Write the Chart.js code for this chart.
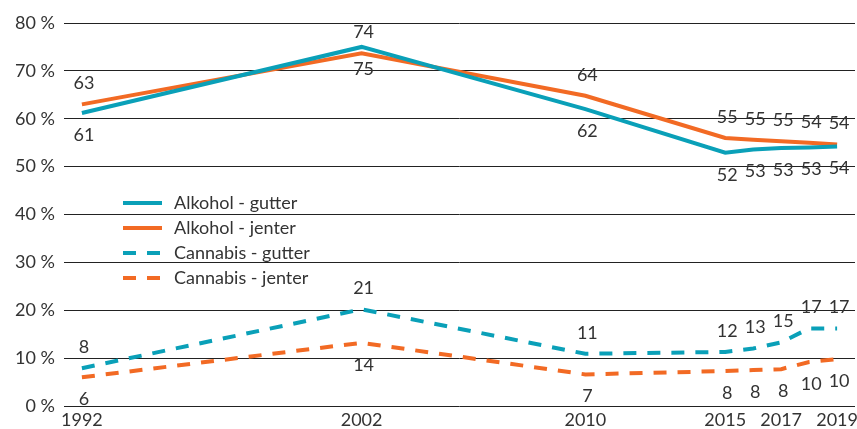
<!DOCTYPE html>
<html>
<head>
<meta charset="utf-8">
<script src="https://cdn.jsdelivr.net/npm/chart.js@4"></script>
<style>
  html, body { margin: 0; padding: 0; background: #fff; }
  #wrap { width: 857px; height: 429px; }
</style>
</head>
<body>
<div id="wrap"><canvas id="myChart" width="857" height="429"></canvas></div>
<script>
// years on the x axis
const years = [1992, 2002, 2010, 2015, 2016, 2017, 2018, 2019];
const yearTicks = [1992, 2002, 2010, 2015, 2017, 2019];

// line values (percent)
const alkoholGutter = [61.2, 75, 62, 52.9, 53.6, 53.9, 54, 54.2];
const alkoholJenter = [63, 73.7, 64.8, 56, 55.6, 55.3, 55, 54.6];
const cannabisGutter = [7.9, 20.2, 10.9, 11.3, 12, 13.3, 16.2, 16.2];
const cannabisJenter = [6, 13.2, 6.6, 7.3, 7.5, 7.7, 9.2, 9.8];

// printed value labels
const alkoholGutterLabels = [61, 75, 62, 52, 53, 53, 53, 54];
const alkoholJenterLabels = [63, 74, 64, 55, 55, 55, 54, 54];
const cannabisGutterLabels = [8, 21, 11, 12, 13, 15, 17, 17];
const cannabisJenterLabels = [6, 14, 7, 8, 8, 8, 10, 10];

const yTicks = [0, 10, 20, 30, 40, 50, 60, 70, 80];

const TEAL = '#0aa0b8';
const ORANGE = '#f26a24';
const TEXT = '#333333';
const FONT = 'Lato';

function pts(vals) {
    return vals.map(function(v, i) { return { x: years[i], y: v }; });
}

// value labels above / below the points
const valueLabels = {
    id: 'valueLabels',
    afterDatasetsDraw: function(chart) {
        const ctx = chart.ctx;
        ctx.save();
        ctx.font = '18px ' + FONT;
        ctx.fillStyle = TEXT;
        ctx.textAlign = 'center';
        ctx.textBaseline = 'middle';
        chart.data.datasets.forEach(function(ds, i) {
            const meta = chart.getDatasetMeta(i);
            meta.data.forEach(function(p, j) {
                const dy = ds.labelPos === 'above' ? -21 : 22;
                ctx.fillText(String(ds.valueLabels[j]), p.x + 2, p.y + dy);
            });
        });
        ctx.restore();
    }
};

// legend drawn inside the plot
const insideLegend = {
    id: 'insideLegend',
    afterDraw: function(chart) {
        const ctx = chart.ctx;
        ctx.save();
        ctx.font = '18px ' + FONT;
        ctx.textBaseline = 'middle';
        chart.data.datasets.forEach(function(ds, i) {
            const y = 203 + i * 25;
            ctx.strokeStyle = ds.borderColor;
            ctx.lineWidth = 4;
            ctx.setLineDash(ds.borderDash || []);
            ctx.beginPath();
            ctx.moveTo(123, y);
            ctx.lineTo(162, y);
            ctx.stroke();
            ctx.setLineDash([]);
            ctx.fillStyle = TEXT;
            ctx.fillText(ds.label, 174, y);
        });
        ctx.restore();
    }
};

window.addEventListener('load', function() {
    let ctx = document.getElementById('myChart').getContext('2d');
    let chart = new Chart(ctx, {
        type: 'line',
        data: {
            datasets: [{
                label: 'Alkohol - gutter',
                data: pts(alkoholGutter),
                valueLabels: alkoholGutterLabels,
                labelPos: 'below',
                borderColor: TEAL,
                borderWidth: 4
            }, {
                label: 'Alkohol - jenter',
                data: pts(alkoholJenter),
                valueLabels: alkoholJenterLabels,
                labelPos: 'above',
                borderColor: ORANGE,
                borderWidth: 4
            }, {
                label: 'Cannabis - gutter',
                data: pts(cannabisGutter),
                valueLabels: cannabisGutterLabels,
                labelPos: 'above',
                borderColor: TEAL,
                borderWidth: 4,
                borderDash: [13, 11]
            }, {
                label: 'Cannabis - jenter',
                data: pts(cannabisJenter),
                valueLabels: cannabisJenterLabels,
                labelPos: 'below',
                borderColor: ORANGE,
                borderWidth: 4,
                borderDash: [13, 11]
            }]
        },
        options: {
            responsive: false,
            animation: false,
            devicePixelRatio: 1,
            layout: { padding: { top: 23, right: 2, left: 0, bottom: 0 } },
            elements: { point: { radius: 0 }, line: { tension: 0, borderCapStyle: 'butt' } },
            plugins: { legend: { display: false }, tooltip: { enabled: false } },
            scales: {
                x: {
                    type: 'linear',
                    min: 1991.36,
                    max: 2019.64,
                    afterBuildTicks: function(scale) {
                        scale.ticks = yearTicks.map(function(v) { return { value: v }; });
                    },
                    afterFit: function(scale) {
                        scale.paddingLeft = 0;
                        scale.paddingRight = 0;
                        scale.height = 23;
                    },
                    grid: { display: false, drawTicks: false },
                    border: { display: false },
                    ticks: {
                        autoSkip: false,
                        maxRotation: 0,
                        padding: 3,
                        color: TEXT,
                        font: { family: FONT, size: 18 },
                        callback: function(v) { return String(v); }
                    }
                },
                y: {
                    min: 0,
                    max: 80,
                    afterBuildTicks: function(scale) {
                        scale.ticks = yTicks.map(function(v) { return { value: v }; });
                    },
                    afterFit: function(scale) {
                        scale.width = 64;
                        scale.paddingTop = 0;
                        scale.paddingBottom = 0;
                    },
                    grid: { color: '#222', lineWidth: 1, drawTicks: false },
                    border: { display: false },
                    ticks: {
                        padding: 9,
                        color: TEXT,
                        font: { family: FONT, size: 18 },
                        callback: function(v) { return v + ' %'; }
                    }
                }
            }
        },
        plugins: [valueLabels, insideLegend]
    });
});
</script>
</body>
</html>
